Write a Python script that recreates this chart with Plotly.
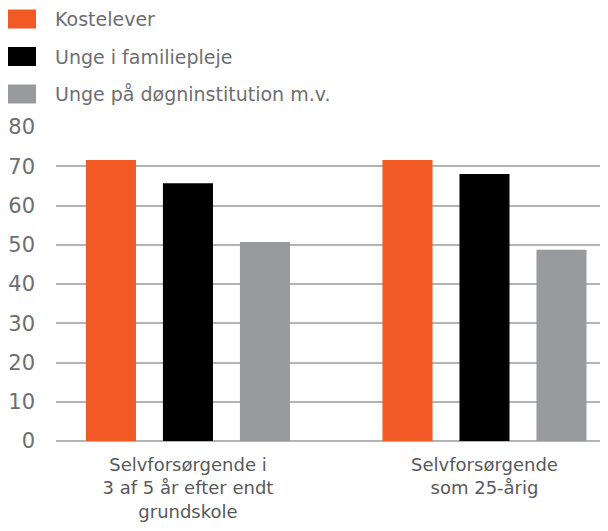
import plotly.graph_objects as go

categories = ["Selvforsørgende i<br>3 af 5 år efter endt<br>grundskole", "Selvforsørgende<br>som 25-årig"]
series_names = ["Kostelever", "Unge i familiepleje", "Unge på døgninstitution m.v."]
kostelever = [71.6, 71.6]
familiepleje = [65.7, 68.0]
doegninstitution = [50.7, 48.7]
colors = ["#f15a24", "#000000", "#999a9e"]
y_ticks = [0, 10, 20, 30, 40, 50, 60, 70, 80]

values = [kostelever, familiepleje, doegninstitution]
font_family = "DejaVu Sans, sans-serif"
text_color = "#6d6e71"

fig = go.Figure()
for name, vals, col in zip(series_names, values, colors):
    fig.add_trace(go.Bar(x=[0, 1], y=vals, name=name, marker=dict(color=col, line=dict(width=0)),
                         showlegend=False))

# manual legend (plot area spans page px 56..608 horizontally, 127..441 vertically)
for i, (name, col) in enumerate(zip(series_names, colors)):
    yc = 19 + i * 37.5
    fig.add_shape(type="rect", xref="paper", yref="paper",
                  x0=(8 - 56) / 552, x1=(36 - 56) / 552,
                  y0=(441 - (yc - 9.5)) / 314, y1=(441 - (yc + 9.5)) / 314,
                  fillcolor=col, line=dict(width=0))
    fig.add_annotation(xref="paper", yref="paper", x=(53 - 56) / 552, y=(441 - yc) / 314,
                       text=name, showarrow=False, xanchor="left", yanchor="middle",
                       font=dict(family=font_family, size=19, color=text_color))

fig.update_layout(
    width=600, height=523,
    margin=dict(l=48, r=0, t=119, b=90),
    paper_bgcolor="white", plot_bgcolor="white",
    barmode="group", bargap=0.221, bargroupgap=0.35,
    font=dict(family=font_family, color=text_color),
    xaxis=dict(tickmode="array", tickvals=[0, 1], ticktext=categories,
               range=[-0.445, 1.4165], showgrid=False, zeroline=False, showline=False,
               ticks="", ticklabelstandoff=11, tickfont=dict(size=18, color="#58595b")),
    yaxis=dict(range=[0, 80], tickvals=y_ticks, showgrid=True, gridcolor="#b3b3b3", gridwidth=1.5,
               zeroline=True, zerolinecolor="#b3b3b3", zerolinewidth=1.5, showline=False,
               ticks="", ticklabelstandoff=20, tickfont=dict(size=21, color=text_color)),
)

fig.write_html("out.html")
